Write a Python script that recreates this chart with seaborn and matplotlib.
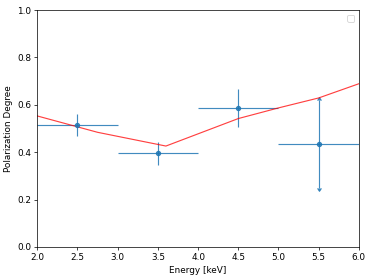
import matplotlib
matplotlib.use("Agg")
import matplotlib.pyplot as plt
import numpy as np
import pandas as pd
import seaborn as sns

# model curve
model_energy = [2.0, 2.75, 3.6, 4.5, 5.0, 5.5, 6.0]
model_pd = [0.553, 0.484, 0.426, 0.542, 0.587, 0.629, 0.689]

# measured points
energy = [2.5, 3.5, 4.5]
pol_deg = [0.515, 0.395, 0.585]
pol_err = [0.045, 0.047, 0.08]
energy_err = [0.5, 0.5, 0.5]

# last bin, only limits
lim_energy = [5.5]
lim_pd = [0.435]
lim_err = [0.187]
lim_energy_err = [0.5]

fig, ax = plt.subplots(figsize=(373 / 64, 280 / 64), dpi=64)

ax.errorbar(energy, pol_deg, xerr=energy_err, yerr=pol_err, fmt='o', color='tab:blue',
            markersize=5, elinewidth=1.3, alpha=0.85)
# horizontal bar of the last bin, then arrows up and down
ax.errorbar(lim_energy, lim_pd, xerr=lim_energy_err, fmt='o', color='tab:blue',
            markersize=5, elinewidth=1.3, alpha=0.85)
ax.errorbar(lim_energy, lim_pd, yerr=lim_err, fmt='none', ecolor='tab:blue',
            elinewidth=1.3, lolims=True, capsize=2, alpha=0.85)
ax.errorbar(lim_energy, lim_pd, yerr=lim_err, fmt='none', ecolor='tab:blue',
            elinewidth=1.3, uplims=True, capsize=2, alpha=0.85)

df = pd.DataFrame({'Energy': model_energy, 'PD': model_pd})
sns.lineplot(data=df, x='Energy', y='PD', ax=ax, color='red', alpha=0.75, linewidth=1.3)

ax.set_xlim(2.0, 6.0)
ax.set_ylim(0.0, 1.0)
ax.set_xlabel('Energy [keV]')
ax.set_ylabel('Polarization Degree')
ax.legend(handles=[], loc='upper right')

fig.subplots_adjust(left=0.1, right=0.962, top=0.964, bottom=0.118)
fig.savefig('out.png')
